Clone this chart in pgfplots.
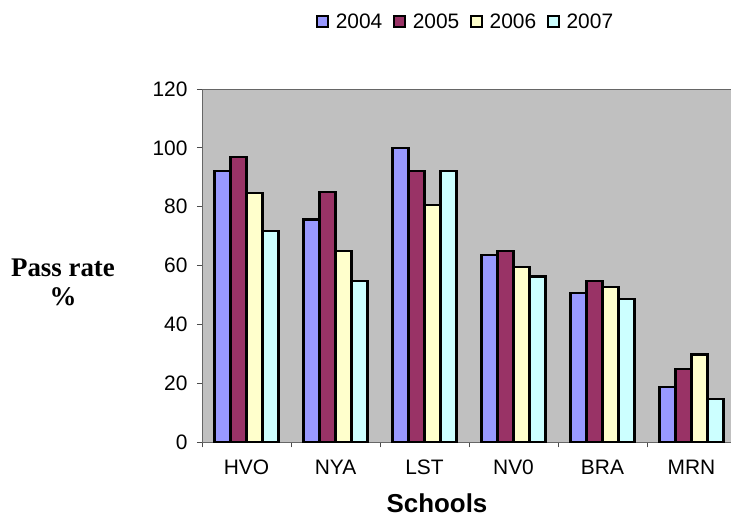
\documentclass[border=0pt]{standalone}
\usepackage{pgfplots}
\pgfplotsset{compat=1.18}
\usepackage{fontspec}
\setmainfont{Liberation Sans}
\newfontfamily\timesfont{Liberation Serif}
\definecolor{cA}{HTML}{9999FF}
\definecolor{cB}{HTML}{993366}
\definecolor{cC}{HTML}{FFFFCC}
\definecolor{cD}{HTML}{CCFFFF}
\definecolor{bgray}{HTML}{C0C0C0}
\begin{document}
\begin{tikzpicture}
\begin{axis}[
  at={(0,0)}, anchor=south west,
  scale only axis, width=534bp, height=353.3bp,
  xmin=-0.5, xmax=5.5, ymin=0, ymax=120,
  ybar=0pt, bar width=16bp,
  axis background/.style={fill=bgray},
  axis line style={black!60, line width=0.8bp},
  /pgf/number format/assume math mode=true,
  tick label style={font=\fontsize{21}{25}\selectfont},
  ytick={0,20,...,120}, ytick pos=left,
  xtick={0,...,5}, xticklabels={HVO,NYA,LST,NV0,BRA,MRN}, xtick pos=bottom,
  minor xtick={-0.5,0.5,...,5.5},
  tick align=outside,
  major tick length=5bp, minor tick length=5bp,
  major x tick style={draw=none},
  tick style={black!70, line width=0.8bp},
  yticklabel style={xshift=-6bp},
  xticklabel style={yshift=-9bp},
  legend columns=4,
  legend style={at={(0.494,1.19)}, anchor=center, draw=none, fill=none,
    font=\fontsize{21}{25}\selectfont,
    /tikz/every odd column/.append style={column sep=5bp},
    /tikz/every even column/.append style={column sep=9bp}},
  legend image code/.code={\draw[draw=black, line width=1.4bp, #1] (0bp,-5bp) rectangle (11bp,6bp);},
]
\addplot[draw=black, line width=2.2bp, fill=cA] coordinates {(0,92.2) (1,75.7) (2,100) (3,63.7) (4,50.8) (5,18.9)};
\addplot[draw=black, line width=2.2bp, fill=cB] coordinates {(0,96.9) (1,85) (2,92.2) (3,65) (4,54.7) (5,25)};
\addplot[draw=black, line width=2.2bp, fill=cC] coordinates {(0,84.7) (1,64.9) (2,80.6) (3,59.5) (4,52.7) (5,29.8)};
\addplot[draw=black, line width=2.2bp, fill=cD] coordinates {(0,71.7) (1,54.8) (2,92.2) (3,56.3) (4,48.7) (5,14.7)};
\legend{2004,2005,2006,2007}
\end{axis}
\node[align=center, font=\timesfont\bfseries\fontsize{27}{29}\selectfont] at (-139bp,160bp) {Pass rate\\\%};
\node[font=\bfseries\fontsize{26}{28}\selectfont] at (235bp,-61bp) {Schools};
\pgfresetboundingbox
\path (-202bp,-75.7bp) rectangle (529bp,442.3bp);
\end{tikzpicture}
\end{document}
